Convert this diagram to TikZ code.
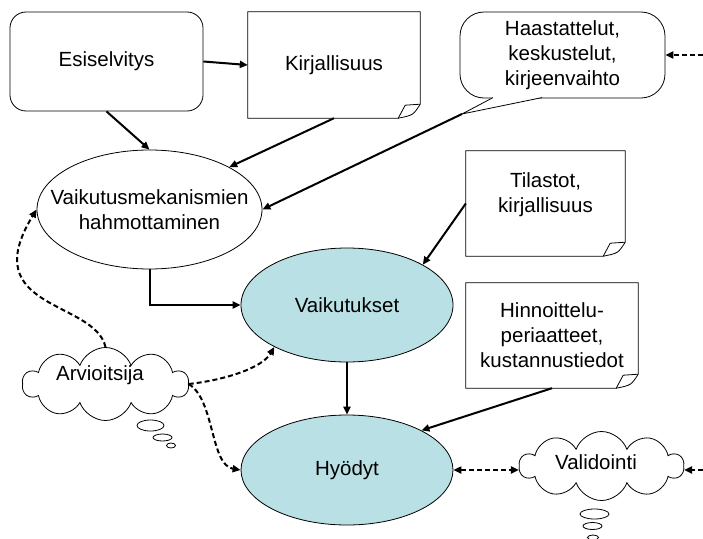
\documentclass[tikz,border=0pt]{standalone}
\usepackage{fontspec}
\setmainfont{Liberation Sans}
\usetikzlibrary{arrows.meta,shapes.geometric,shapes.symbols}
\definecolor{effectblue}{RGB}{185,224,228}

% outline of a sheet with a curled lower right corner
\newcommand\sheetoutline[1]{%
  \draw[shapeline] (#1.north west) -- (#1.north east) -- ([yshift=14pt]#1.south east)
    .. controls ([xshift=-7pt,yshift=3pt]#1.south east) .. ([xshift=-22pt]#1.south east)
    -- (#1.south west) -- cycle;
  \draw[shapeline] ([xshift=-22pt]#1.south east) -- ([xshift=-15pt,yshift=13pt]#1.south east)
    -- ([yshift=14pt]#1.south east);
}

\tikzset{
  shapeline/.style={draw=black,line width=0.8pt},
  lbl/.style={font=\fontsize{20.5}{25}\selectfont,align=center},
  roundbox/.style={shapeline,rounded corners=16pt,lbl,minimum width=193pt,minimum height=99pt},
  sheet/.style={lbl,inner sep=0pt},
  oval/.style={ellipse,shapeline,lbl,inner sep=0pt},
  thought/.style={cloud,shapeline,cloud puffs=10,cloud puff arc=140,aspect=2.3,
    cloud ignores aspect,inner sep=0pt},
  bubble/.style={ellipse,shapeline,inner sep=0pt},
  flow/.style={line width=2pt,-{Triangle[length=8pt,width=7pt]}},
  dflow/.style={flow,dash pattern=on 5pt off 3pt},
  ddflow/.style={line width=2pt,dash pattern=on 5pt off 3pt,
    {Triangle[length=8pt,width=7pt]}-{Triangle[length=8pt,width=7pt]}},
}

\begin{document}
\begin{tikzpicture}[x=1pt,y=-1pt]
\useasboundingbox[fill=white] (0,0) rectangle (703,538);

% sources
\node[roundbox] (esi) at (106.5,61.5) {Esiselvitys};
\node[sheet,minimum width=172pt,minimum height=106pt] (kir) at (334,65) {\raisebox{3pt}{Kirjallisuus}};
\sheetoutline{kir}

% speech bubble with its tail
\node[shapeline,rounded corners=24pt,lbl,minimum width=205pt,minimum height=86pt,inner sep=0pt]
  (haast) at (562.5,55) {Haastattelut,\\keskustelut,\\kirjeenvaihto};
\coordinate (haasttip) at (462,114);
\fill[white] (493,97.2) -- (haasttip) -- (542,97.2) -- cycle;
\draw[shapeline] (493,97.6) -- (haasttip) -- (542,97.6);

\node[sheet,minimum width=159pt,minimum height=105pt] (til) at (545.5,203.5) {Tilastot,\\kirjallisuus\\[-3pt]};
\sheetoutline{til}
\node[sheet,minimum width=172pt,minimum height=105pt] (hin) at (552,335.5) {Hinnoittelu-\\periaatteet,\\kustannustiedot};
\sheetoutline{hin}

% central chain
\node[oval,fill=white,minimum width=225pt,minimum height=119pt,
  label={[lbl]center:Vaikutusmekanismien\\hahmottaminen}] (vm) at (149.5,209.5) {};
\node[oval,fill=effectblue,minimum width=212pt,minimum height=114pt] (vaik) at (347,305) {Vaikutukset};
\node[oval,fill=effectblue,minimum width=212pt,minimum height=110pt] (hyo) at (347,470) {Hyödyt};

% thought clouds
\node[thought,minimum width=166pt,minimum height=73pt] (arv) at (105.5,384) {};
\node[lbl] (arvtxt) at (100,375) {Arvioitsija};
\node[bubble,minimum width=27pt,minimum height=11pt] (arvb1) at (150.5,425.5) {};
\node[bubble,minimum width=19pt,minimum height=7pt] (arvb2) at (162.5,437.5) {};
\node[bubble,minimum width=9pt,minimum height=5pt] (arvb3) at (171,445.5) {};

\node[thought,minimum width=164pt,minimum height=69pt] (val) at (601.5,466) {};
\node[lbl] (valtxt) at (596,462) {Validointi};
\node[bubble,minimum width=29pt,minimum height=10pt] (valb1) at (594.5,514) {};
\node[bubble,minimum width=19pt,minimum height=7pt] (valb2) at (592.5,526) {};
\node[bubble,minimum width=11pt,minimum height=5pt] (valb3) at (593,537.5) {};

% solid connectors
\draw[flow] (esi.east) -- (kir.west);
\draw[flow] (esi.south) -- (vm.north);
\draw[flow] (kir.south) -- (vm.28);
\draw[flow] (haasttip) -- (vm.east);
\draw[flow] (vm.south) |- (vaik.west);
\draw[flow] (til.west) -- (vaik.28);
\draw[flow] (vaik.south) -- (hyo.north);
\draw[flow] (hin.south) -- (hyo.28);

% dashed connectors
\coordinate (haastin) at (703,55);
\coordinate (valin) at (703,470);
\draw[dflow] (haastin) -- (haast.east);
\draw[dflow] (valin) -- (valin -| val.east);
\draw[ddflow] (hyo.east) -- (hyo.east -| val.west);
\draw[dflow] (arv.north) .. controls (95,300) and (-25,310) .. (vm.west);
\draw[dflow] (arv.east) .. controls (225,380) and (262,368) .. (vaik.210);
\draw[dflow] (arv.east) .. controls (215,400) and (210,465) .. (hyo.west);
\end{tikzpicture}
\end{document}
